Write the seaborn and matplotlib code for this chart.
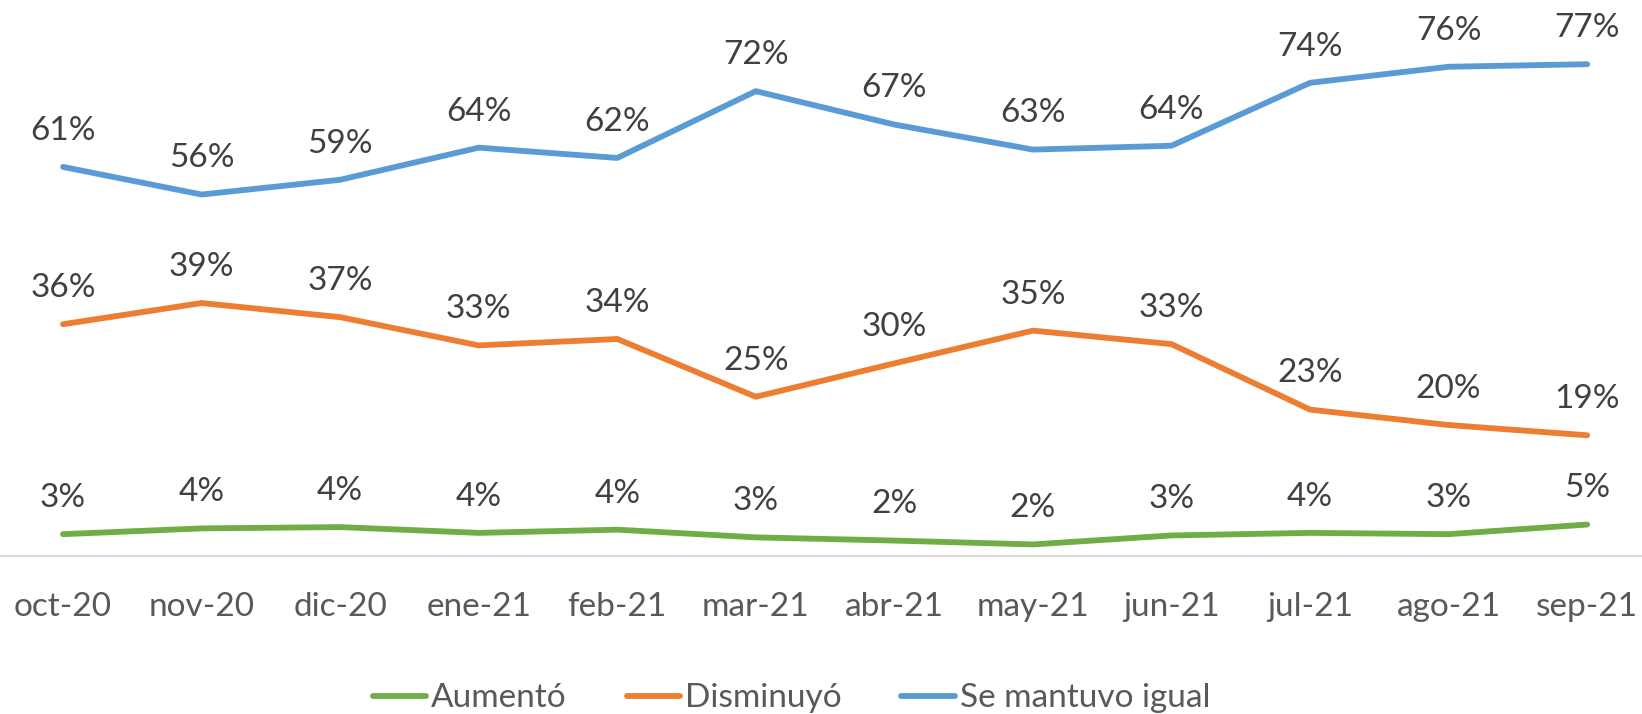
import pandas as pd
import matplotlib
matplotlib.use("Agg")
import matplotlib.pyplot as plt
import seaborn as sns

# Data (percent)
meses = ["oct-20", "nov-20", "dic-20", "ene-21", "feb-21", "mar-21",
         "abr-21", "may-21", "jun-21", "jul-21", "ago-21", "sep-21"]
aumento = [3.4, 4.3, 4.5, 3.6, 4.1, 2.9, 2.4, 1.8, 3.2, 3.6, 3.4, 4.9]
disminuyo = [36.1, 39.4, 37.2, 32.8, 33.8, 24.8, 30.0, 35.1, 33.0, 22.8, 20.4, 18.8]
igual = [60.6, 56.3, 58.6, 63.6, 62.0, 72.4, 67.2, 63.3, 63.9, 73.7, 76.2, 76.6]

series = ["Aumentó", "Disminuyó", "Se mantuvo igual"]
colores = ["#70AD47", "#ED7D31", "#5B9BD5"]

df = pd.DataFrame({
    "mes": meses * 3,
    "serie": [s for s in series for _ in meses],
    "valor": aumento + disminuyo + igual,
})

sns.set_style("white")
plt.rcParams["font.family"] = ["Lato", "DejaVu Sans"]

fig = plt.figure(figsize=(16.42, 7.14), dpi=100)
ax = fig.add_axes([-0.0038, 0.2213, 1.0126, 0.7787])

sns.lineplot(data=df, x="mes", y="valor", hue="serie", hue_order=series,
             palette=colores, linewidth=4.2, sort=False, ax=ax, legend=False)

# data labels above each point
for vals in [aumento, disminuyo, igual]:
    for i, v in enumerate(vals):
        ax.annotate(f"{v:.0f}%", (i, v), xytext=(0, 26), textcoords="offset points",
                    ha="center", va="center", fontsize=24, color="#404040")

ax.set_xlim(-0.5, 11.5)
ax.set_ylim(0, 86.6)
ax.set_yticks([])
ax.set_xlabel("")
ax.set_ylabel("")
for side in ["top", "right", "left"]:
    ax.spines[side].set_visible(False)
ax.spines["bottom"].set_color("#D9D9D9")
ax.spines["bottom"].set_linewidth(1.6)
ax.tick_params(axis="x", length=0, pad=26, labelsize=24, labelcolor="#595959")

handles = [plt.Line2D([], [], color=c, linewidth=4.2) for c in colores]
fig.legend(handles, series, loc="center", bbox_to_anchor=(0.482, 0.022), ncol=3,
           frameon=False, fontsize=24, handlelength=1.6, handletextpad=0.15,
           columnspacing=1.8, labelcolor="#595959")

fig.savefig("out.png", dpi=100)
